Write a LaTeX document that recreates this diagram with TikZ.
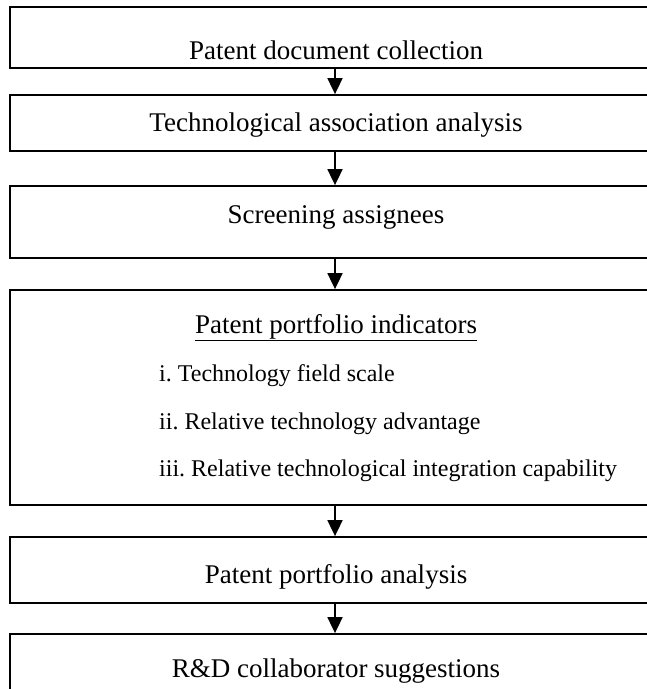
\documentclass[tikz,border=0pt]{standalone}
\usepackage{fontspec}
\setmainfont{Liberation Serif}
\usetikzlibrary{arrows.meta}
\frenchspacing

\begin{document}
\begin{tikzpicture}
  [x=1pt,y=-1pt,
   box/.style={draw,line width=1.8pt,minimum width=660pt,inner sep=0pt},
   txt/.style={anchor=base,inner sep=0pt,font=\fontsize{27}{32}\selectfont},
   item/.style={anchor=base west,inner sep=0pt,font=\fontsize{24}{29}\selectfont},
   arr/.style={line width=1.8pt,-{Triangle[length=16pt,width=15pt]}}]
  \useasboundingbox (0,0) rectangle (647,689);
  \clip (0,0) rectangle (647,689);
  % boxes
  \node[box,minimum height=61pt] (b1) at (340,37.5) {};
  \node[box,minimum height=56pt] (b2) at (340,123) {};
  \node[box,minimum height=72pt] (b3) at (340,222) {};
  \node[box,minimum height=215pt] (b4) at (340,397.5) {};
  \node[box,minimum height=66pt] (b5) at (340,570) {};
  \node[box,minimum height=100pt] (b6) at (340,684) {};
  % texts
  \node[txt] (t1) at (336,59) {Patent document collection};
  \node[txt] (t2) at (336,131) {Technological association analysis};
  \node[txt] (t3) at (336,223) {Screening assignees};
  \node[txt] (t4) at (336,333) {\underline{Patent portfolio indicators}};
  \node[item] (ti) at (159,381) {i. Technology field scale};
  \node[item] (tii) at (159,429) {ii. Relative technology advantage};
  \node[item] (tiii) at (159,476) {iii. Relative technological integration capability};
  \node[txt] (t5) at (336,583) {Patent portfolio analysis};
  \node[txt] (t6) at (336,677) {R\&D collaborator suggestions};
  \coordinate (ax) at (335,0);
  \foreach \from/\to in {b1/b2,b2/b3,b3/b4,b4/b5,b5/b6}
    \draw[arr] (\from.south -| ax) -- (\to.north -| ax);
\end{tikzpicture}
\end{document}
